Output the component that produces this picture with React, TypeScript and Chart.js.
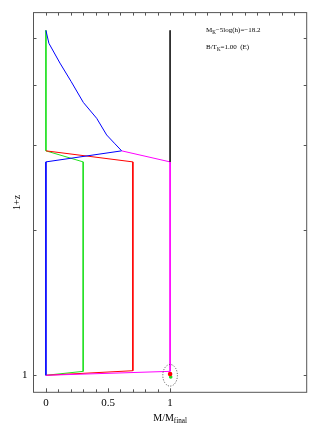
import React, { useEffect, useRef } from "react";
import Chart from "chart.js/auto";

// ---- data ----
const blueX = [0, 0.024, 0.113, 0.202, 0.301, 0.409, 0.489, 0.556, 0.61, 0, 0];
const blueY = [5.19, 4.88, 4.44, 4.07, 3.68, 3.41, 3.15, 3.02, 2.92, 2.77, 1.0];
const greenX = [0, 0, 0.3, 0.3, 0];
const greenY = [5.19, 2.92, 2.77, 1.019, 1.0];
const redX = [0, 0.7, 0.7, 0];
const redY = [2.92, 2.77, 1.022, 1.0];
const magentaX = [0.61, 1, 1, 0];
const magentaY = [2.92, 2.77, 1.019, 1.0];
const blackX = [1, 1];
const blackY = [5.19, 2.77];
const dotRedX = [1.0];
const dotRedY = [1.006];
const dotGreenX = [1.005];
const dotGreenY = [0.992];

const xTickLabels = [0, 0.5, 1];
const yTickLabels = [1];
const xMinorBottom = [0, 0.1, 0.2, 0.3, 0.4, 0.5, 0.6, 0.7, 0.8, 0.9, 1.0];
const xMinorTop = [0, 0.1, 0.2, 0.3, 0.4, 0.5, 0.6, 0.7, 0.8, 0.9, 1.0, 1.1, 1.2, 1.3, 1.4, 1.5, 1.6, 1.7, 1.8, 1.9, 2.0];
const yMajor = [1, 2, 3, 4, 5];

const annot1 = [{ t: "M" }, { t: "K", sub: true }, { t: "\u22125log(h)=\u221218.2" }];
const annot2 = [{ t: "B/T" }, { t: "K", sub: true }, { t: "=1.00  (E)" }];
const xTitle = [{ t: "M/M" }, { t: "final", sub: true }];
const yTitle = "1+z";

const zip = (xs: number[], ys: number[]) => xs.map((x, i) => ({ x, y: ys[i] }));

const SERIF = "'Liberation Serif', 'DejaVu Serif', serif";

type Part = { t: string; sub?: boolean };

function drawParts(ctx: CanvasRenderingContext2D, x: number, y: number, parts: Part[], size: number, align: "left" | "center") {
  const subSize = size * 0.72;
  const widths = parts.map((p) => {
    ctx.font = `${p.sub ? subSize : size}px ${SERIF}`;
    return ctx.measureText(p.t).width;
  });
  const total = widths.reduce((a, b) => a + b, 0);
  let cx = align === "center" ? x - total / 2 : x;
  ctx.textAlign = "left";
  ctx.textBaseline = "alphabetic";
  parts.forEach((p, i) => {
    ctx.font = `${p.sub ? subSize : size}px ${SERIF}`;
    ctx.fillText(p.t, cx, p.sub ? y + size * 0.28 : y);
    cx += widths[i];
  });
}

const overlay = {
  id: "overlay",
  afterDraw(chart: any) {
    const { ctx, chartArea: a } = chart;
    const x = chart.scales.x;
    const y = chart.scales.y;
    ctx.save();
    ctx.strokeStyle = "#555";
    ctx.lineWidth = 1;
    ctx.strokeRect(a.left, a.top, a.right - a.left, a.bottom - a.top);
    const seg = (x1: number, y1: number, x2: number, y2: number) => {
      ctx.beginPath();
      ctx.moveTo(x1, y1);
      ctx.lineTo(x2, y2);
      ctx.stroke();
    };
    xMinorBottom.forEach((v) => {
      const px = Math.round(x.getPixelForValue(v)) + 0.5;
      const len = xTickLabels.includes(v) ? 4 : 3;
      seg(px, a.bottom, px, a.bottom - len);
    });
    xMinorTop.forEach((v) => {
      const px = Math.round(x.getPixelForValue(v)) + 0.5;
      seg(px, a.top, px, a.top + 3);
    });
    yMajor.forEach((v) => {
      const py = Math.round(y.getPixelForValue(v)) + 0.5;
      seg(a.left, py, a.left + 3, py);
      seg(a.right, py, a.right - 3, py);
    });
    // dotted ellipse around final point
    const ex = x.getPixelForValue(1);
    const ey = y.getPixelForValue(1);
    ctx.strokeStyle = "#444";
    ctx.setLineDash([1, 1.6]);
    ctx.beginPath();
    ctx.ellipse(ex, ey, 7.3, 10.8, 0, 0, Math.PI * 2);
    ctx.stroke();
    ctx.setLineDash([]);
    // annotations
    ctx.fillStyle = "#000";
    drawParts(ctx, a.left + 172.5, a.top + 19, annot1, 7, "left");
    drawParts(ctx, a.left + 172.5, a.top + 36.5, annot2, 7, "left");
    // axis titles
    drawParts(ctx, (a.left + a.right) / 2, 420.5, xTitle, 10, "center");
    ctx.save();
    ctx.translate(19.5, (a.top + a.bottom) / 2);
    ctx.rotate(-Math.PI / 2);
    ctx.font = `10px ${SERIF}`;
    ctx.textAlign = "center";
    ctx.textBaseline = "alphabetic";
    ctx.fillText(yTitle, 0, 0);
    ctx.restore();
    ctx.restore();
  },
};

export default function App() {
  const ref = useRef<HTMLCanvasElement>(null);
  useEffect(() => {
    if (!ref.current) return;
    const line = (data: any, color: string) => ({
      data,
      showLine: true,
      borderColor: color,
      borderWidth: 1,
      pointRadius: 0,
      fill: false,
      tension: 0,
    });
    const dot = (data: any, color: string, r: number) => ({
      data,
      showLine: false,
      backgroundColor: color,
      borderWidth: 0,
      pointRadius: r,
    });
    const chart = new Chart(ref.current, {
      type: "scatter",
      data: {
        datasets: [
          line(zip(blackX, blackY), "#222"),
          line(zip(magentaX, magentaY), "#ff00ff"),
          line(zip(blueX, blueY), "#0000ff"),
          line(zip(redX, redY), "#ff0000"),
          line(zip(greenX, greenY), "#22e022"),
          dot(zip(dotRedX, dotRedY), "#ff0000", 2.3),
          dot(zip(dotGreenX, dotGreenY), "#22dd22", 1.8),
        ] as any,
      },
      options: {
        animation: false,
        responsive: false,
        maintainAspectRatio: false,
        layout: { padding: { top: 5.3, right: 7.3, left: 0, bottom: 0 } },
        plugins: { legend: { display: false }, tooltip: { enabled: false } },
        events: [],
        scales: {
          x: {
            type: "linear",
            min: -0.1,
            max: 2.1,
            grid: { display: false, drawTicks: false },
            border: { display: false },
            afterBuildTicks: (s: any) => {
              s.ticks = xTickLabels.map((v) => ({ value: v }));
            },
            afterFit: (s: any) => {
              s.height = 424 - 392.3;
            },
            ticks: {
              color: "#000",
              padding: 4,
              maxRotation: 0,
              autoSkip: false,
              font: { family: SERIF, size: 11 },
              callback: (v: any) => String(v),
            },
          },
          y: {
            type: "logarithmic",
            min: 0.922,
            max: 5.65,
            grid: { display: false, drawTicks: false },
            border: { display: false },
            afterBuildTicks: (s: any) => {
              s.ticks = yTickLabels.map((v) => ({ value: v }));
            },
            afterFit: (s: any) => {
              s.width = 33.5;
            },
            ticks: {
              color: "#000",
              padding: 6,
              autoSkip: false,
              font: { family: SERIF, size: 11 },
              callback: (v: any) => String(v),
            },
          },
        },
      },
      plugins: [overlay],
    });
    return () => chart.destroy();
  }, []);
  return (
    <div style={{ position: "fixed", left: 0, top: 0, width: 314, height: 424, background: "#fff" }}>
      <canvas ref={ref} width={314} height={424} style={{ width: 314, height: 424, display: "block" }} />
    </div>
  );
}
